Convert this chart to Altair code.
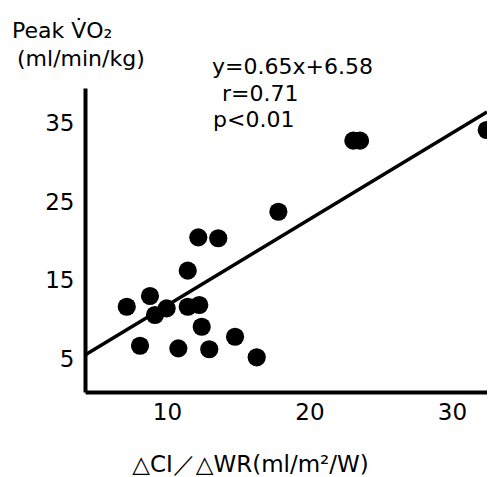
import altair as alt
import pandas as pd

# scatter data
ci_wr = [7.18, 8.81, 8.11, 9.16, 9.98, 10.80, 11.46, 11.46, 12.27, 12.44,
         12.20, 13.60, 12.97, 14.78, 16.30, 17.82, 23.08, 23.55, 32.44]
peak_vo2 = [11.66, 13.03, 6.69, 10.61, 11.46, 6.36, 16.25, 11.66, 11.88, 9.11,
            20.50, 20.38, 6.24, 7.84, 5.22, 23.76, 32.81, 32.81, 34.17]

# regression line endpoints as drawn
line_x = [4.25, 32.46]
line_y = [5.51, 36.46]

x_ticks = [10, 20, 30]
y_ticks = [5, 15, 25, 35]
x_domain = [4.25, 32.46]
y_domain = [0.80, 39.52]

annotation = ["y=0.65x+6.58", "r=0.71", "p<0.01"]
y_title = ["Peak V\u0307O\u2082", "(ml/min/kg)"]
x_title = "\u25b3CI\uff0f\u25b3WR(ml/m\u00b2/W)"

FONT = "DejaVu Sans"

pts = pd.DataFrame({"x": ci_wr, "y": peak_vo2})
ln = pd.DataFrame({"x": line_x, "y": line_y})
ann_df = pd.DataFrame({"t": annotation, "px": [127, 137, 128], "py": [-14, 13, 39]})
yt_df = pd.DataFrame({"t": y_title, "px": [-73, -68], "py": [-50, -22]})

xscale = alt.Scale(domain=x_domain, nice=False, zero=False)
yscale = alt.Scale(domain=y_domain, nice=False, zero=False)

xaxis = alt.Axis(
    values=x_ticks, grid=False, ticks=False, domainColor="black", domainWidth=4,
    labelFont=FONT, labelFontSize=23, labelColor="black", labelPadding=9,
    title=x_title, titleFont=FONT, titleFontSize=23, titleFontWeight="normal",
    titleColor="black", titleX=165, titleY=79, titleAlign="center",
    titleBaseline="alphabetic", titleAnchor="start",
)
yaxis = alt.Axis(
    values=y_ticks, grid=False, ticks=False, domainColor="black", domainWidth=4,
    labelFont=FONT, labelFontSize=23, labelColor="black", labelPadding=11,
    title=None,
)

points = alt.Chart(pts).mark_circle(size=330, color="black", opacity=1).encode(
    x=alt.X("x:Q", scale=xscale, axis=xaxis),
    y=alt.Y("y:Q", scale=yscale, axis=yaxis),
)

reg = alt.Chart(ln).mark_line(color="black", strokeWidth=3.5).encode(
    x=alt.X("x:Q", scale=xscale),
    y=alt.Y("y:Q", scale=yscale),
)

ann = alt.Chart(ann_df).mark_text(
    font=FONT, fontSize=22, color="black", align="left", baseline="alphabetic",
).encode(
    text="t:N",
    x=alt.X("px:Q", scale=None, axis=None),
    y=alt.Y("py:Q", scale=None, axis=None),
)

ytitle = alt.Chart(yt_df).mark_text(
    font=FONT, fontSize=22, color="black", align="left", baseline="alphabetic",
).encode(
    text="t:N",
    x=alt.X("px:Q", scale=None, axis=None),
    y=alt.Y("py:Q", scale=None, axis=None),
)

chart = alt.layer(reg, points, ann, ytitle).properties(
    width=402, height=304,
    autosize=alt.AutoSizeParams(type="none"),
    padding={"left": 77, "top": 80, "right": 0, "bottom": 85},
    background="white",
).configure_view(stroke=None)

chart.save("out.html", embed_options={"renderer": "svg", "actions": False})
